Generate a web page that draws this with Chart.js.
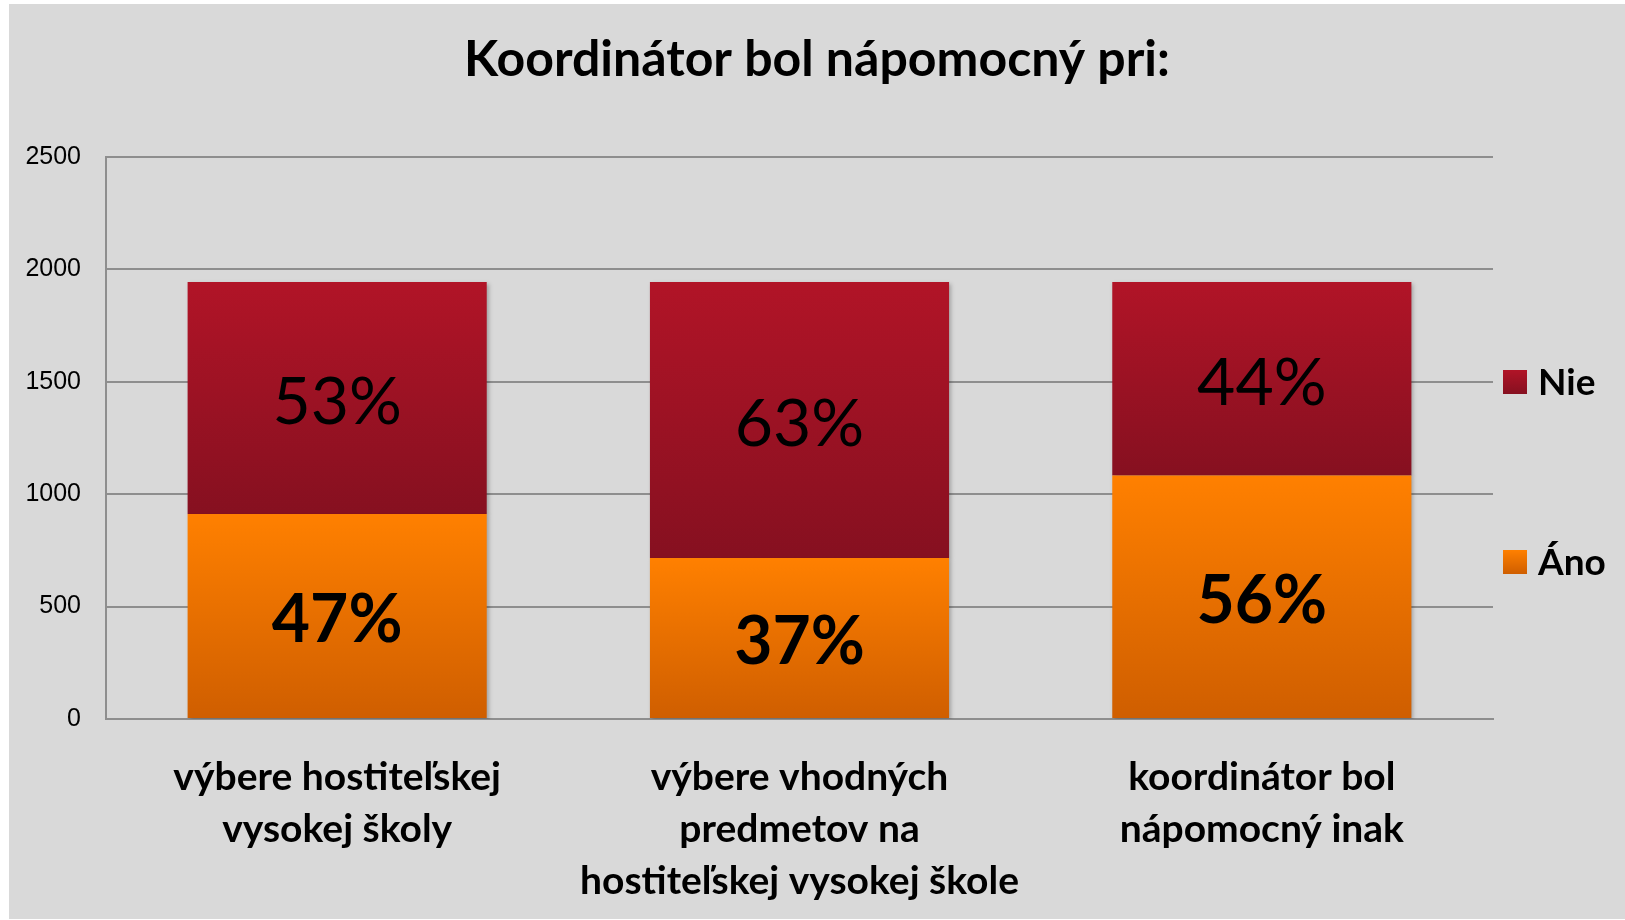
<!DOCTYPE html>
<html>
<head>
<meta charset="utf-8">
<script src="https://cdn.jsdelivr.net/npm/chart.js@4"></script>
<style>
    body { margin: 0; background: #fff; }
    #wrap { position: absolute; left: 9px; top: 4px; width: 1616px; height: 915px; background: #d9d9d9; }
</style>
</head>
<body>
<div id="wrap"><canvas id="barChart"></canvas></div>
<script>
// data
var categories = [
    ['výbere hostiteľskej', 'vysokej školy'],
    ['výbere vhodných', 'predmetov na', 'hostiteľskej vysokej škole'],
    ['koordinátor bol', 'nápomocný inak']
];
var anoValues = [912, 716, 1083];
var nieValues = [1032, 1228, 861];
var yTicks = [0, 500, 1000, 1500, 2000, 2500];

// gradient po segmentoch
function segmentGradient(topColor, bottomColor) {
    return function (c) {
        var chart = c.chart;
        if (!chart.chartArea || c.type !== 'data') return topColor;
        var y = chart.scales.y;
        var i = c.dataIndex;
        var start = c.datasetIndex === 0 ? 0 : anoValues[i];
        var end = start + (c.datasetIndex === 0 ? anoValues[i] : nieValues[i]);
        var g = chart.ctx.createLinearGradient(0, y.getPixelForValue(end), 0, y.getPixelForValue(start));
        g.addColorStop(0, topColor);
        g.addColorStop(1, bottomColor);
        return g;
    };
}

// jemny tien pod stlpcami
var barShadow = {
    id: 'barShadow',
    beforeDatasetDraw: function (chart) {
        var ctx = chart.ctx;
        ctx.save();
        ctx.shadowColor = 'rgba(0, 0, 0, 0.25)';
        ctx.shadowBlur = 4;
        ctx.shadowOffsetX = 2;
        ctx.shadowOffsetY = 2;
    },
    afterDatasetDraw: function (chart) {
        chart.ctx.restore();
    }
};

var percentLabels = {
    id: 'percentLabels',
    afterDatasetsDraw: function (chart) {
        var ctx = chart.ctx;
        ctx.save();
        ctx.textAlign = 'center';
        ctx.textBaseline = 'middle';
        ctx.fillStyle = '#000';
        chart.data.datasets.forEach(function (ds, di) {
            var meta = chart.getDatasetMeta(di);
            ctx.font = (di === 0 ? 'bold ' : '') + '66px Lato';
            meta.data.forEach(function (el, i) {
                var total = anoValues[i] + nieValues[i];
                var txt = Math.round(ds.data[i] / total * 100) + '%';
                ctx.fillText(txt, el.x, (el.y + el.base) / 2 + 5);
            });
        });
        ctx.restore();
    }
};

var sideLegend = {
    id: 'sideLegend',
    afterDraw: function (chart) {
        var ctx = chart.ctx;
        var a = chart.chartArea;
        var items = [
            { text: 'Nie', c1: '#b11427', c2: '#861020', y: a.top + 225 },
            { text: 'Áno', c1: '#ff8000', c2: '#cf5e00', y: a.top + 405 }
        ];
        ctx.save();
        ctx.font = 'bold 37px Lato';
        ctx.textBaseline = 'middle';
        items.forEach(function (it) {
            var g = ctx.createLinearGradient(0, it.y - 12, 0, it.y + 12);
            g.addColorStop(0, it.c1);
            g.addColorStop(1, it.c2);
            ctx.fillStyle = g;
            ctx.fillRect(a.right + 10, it.y - 12, 24, 24);
            ctx.fillStyle = '#000';
            ctx.fillText(it.text, a.right + 45, it.y + 1);
        });
        ctx.restore();
    }
};

var ctx = document.getElementById('barChart').getContext('2d');
var myChart = new Chart(ctx, {
    type: 'bar',
    data: {
        labels: categories,
        datasets: [
            {
                label: 'Áno',
                data: anoValues,
                backgroundColor: segmentGradient('#ff8000', '#cf5e00'),
                barPercentage: 0.647,
                categoryPercentage: 1
            },
            {
                label: 'Nie',
                data: nieValues,
                backgroundColor: segmentGradient('#b11427', '#861020'),
                barPercentage: 0.647,
                categoryPercentage: 1
            }
        ]
    },
    options: {
        responsive: true,
        maintainAspectRatio: false,
        animation: false,
        layout: {
            padding: { left: 0, right: 0, top: 0, bottom: 0 }
        },
        plugins: {
            legend: { display: false },
            tooltip: { enabled: false },
            title: {
                display: true,
                text: 'Koordinátor bol nápomocný pri:',
                color: '#000',
                font: { family: 'Lato', size: 50, weight: 'bold' },
                padding: { top: 26, bottom: 67 }
            }
        },
        scales: {
            x: {
                stacked: true,
                afterFit: function (scale) { scale.height = 200; },
                grid: { display: false, drawTicks: false },
                border: { display: true, color: '#8e8e8e', width: 2 },
                ticks: {
                    color: '#000',
                    font: { family: 'Lato', size: 39, weight: 'bold', lineHeight: '52px' },
                    padding: 32,
                    maxRotation: 0,
                    autoSkip: false
                }
            },
            y: {
                stacked: true,
                min: 0,
                max: 2500,
                afterBuildTicks: function (scale) {
                    scale.ticks = yTicks.map(function (v) { return { value: v }; });
                },
                afterFit: function (scale) { scale.width = 97; },
                grid: { color: '#8e8e8e', lineWidth: 2, drawTicks: false },
                border: { display: true, color: '#8e8e8e', width: 2 },
                ticks: {
                    color: '#000',
                    font: { family: 'Liberation Sans', size: 25 },
                    padding: 25,
                    callback: function (v) { return String(v); }
                }
            },
            // miesto pre legendu vpravo
            side: {
                position: 'right',
                display: true,
                min: 0,
                max: 1,
                afterFit: function (scale) { scale.width = 132; },
                grid: { display: false, drawTicks: false },
                border: { display: false },
                ticks: { display: false }
            }
        }
    },
    plugins: [barShadow, percentLabels, sideLegend]
});
</script>
</body>
</html>
